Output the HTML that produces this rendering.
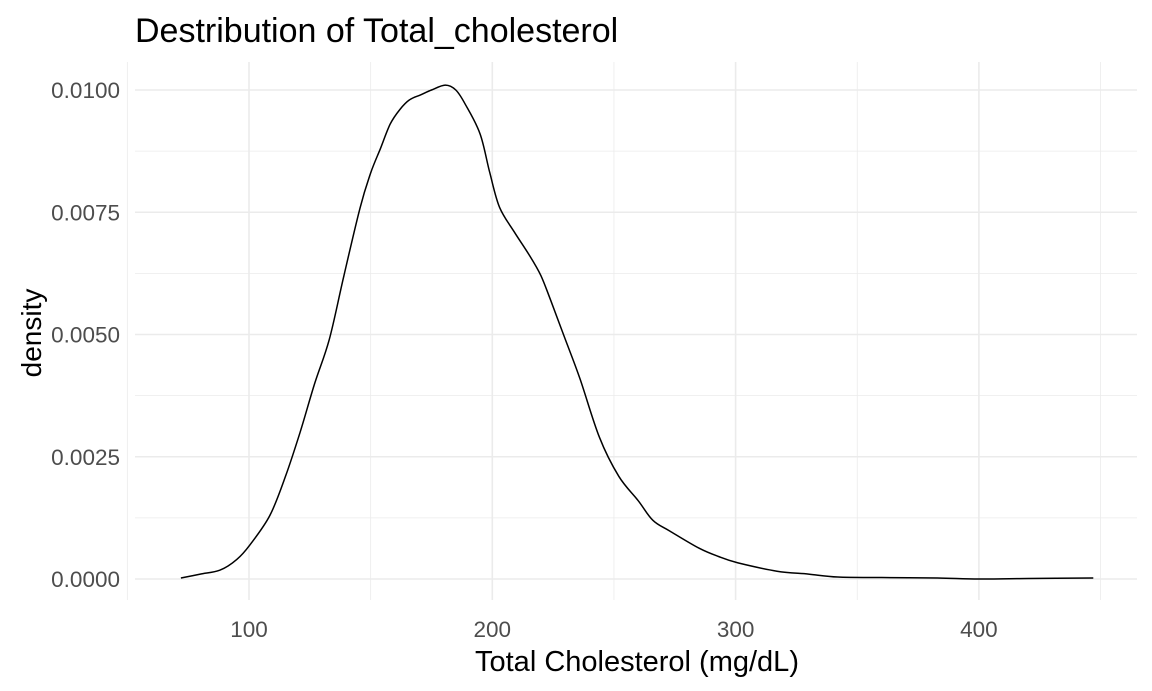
<!DOCTYPE html>
<html><head><meta charset="utf-8"><style>
body{margin:0;background:#fff;}
svg{display:block;font-family:"Liberation Sans",sans-serif;}
</style></head><body>
<svg id="chart" width="1152" height="691">
<text x="135" y="42" font-size="34" fill="#000">Destribution of Total_cholesterol</text>
<g id="grid"></g>
<g id="ticks"></g>
<path id="curve" fill="none" stroke="#000" stroke-width="1.5"></path>
<text x="637" y="671" font-size="29" text-anchor="middle" fill="#000">Total Cholesterol (mg/dL)</text>
<text transform="translate(41,333) rotate(-90)" font-size="28" text-anchor="middle" fill="#000">density</text>
</svg>
<script>
const xVals=[72,80,88,95,100.4,108.6,115,121,127,133,139,145.7,150,154,158,162,166,170.5,175,180.7,185,189,195,199,203,209,215.5,220,224,230,236,244,252,260,266,273,285,293,301,317,330,342,360,383,400,420,447];
const yVals=[0.00002,0.0001,0.00018,0.0004,0.0007,0.0013,0.0021,0.003,0.004,0.0049,0.0062,0.0076,0.0083,0.0088,0.0093,0.0096,0.0098,0.0099,0.01,0.0101,0.01,0.0097,0.0091,0.0083,0.0076,0.0071,0.0066,0.0062,0.0057,0.0049,0.0041,0.0029,0.0021,0.0016,0.0012,0.00098,0.00063,0.00046,0.00033,0.00016,0.0001,0.00004,0.00003,0.00002,0,0.00001,0.00002];
const xTicks=[100,200,300,400];
const xMinor=[50,150,250,350,450];
const yTicks=[0,0.0025,0.005,0.0075,0.01];
const yTickLabels=["0.0000","0.0025","0.0050","0.0075","0.0100"];
const yMinor=[0.00125,0.00375,0.00625,0.00875];
const L=135,R=1137,T=62,B=600;
const sx=v=>249+(v-100)*2.433;
const sy=v=>579-v*48900;
const NS="http://www.w3.org/2000/svg";
const grid=document.getElementById('grid'),ticks=document.getElementById('ticks');
function line(x1,y1,x2,y2,w,name){const l=document.createElementNS(NS,'line');
l.setAttribute('x1',x1);l.setAttribute('y1',y1);l.setAttribute('x2',x2);l.setAttribute('y2',y2);
l.setAttribute('stroke','#ebebeb');l.setAttribute('stroke-width',w);


grid.appendChild(l);}
xMinor.forEach(v=>line(sx(v),T,sx(v),B,0.8,'x-minor-gridline'));
yMinor.forEach(v=>line(L,sy(v),R,sy(v),0.8,'y-minor-gridline'));
xTicks.forEach(v=>line(sx(v),T,sx(v),B,1.6,'x-major-gridline'));
yTicks.forEach(v=>line(L,sy(v),R,sy(v),1.6,'y-major-gridline'));
function text(x,y,s,anchor,name){const t=document.createElementNS(NS,'text');
t.setAttribute('x',x);t.setAttribute('y',y);t.setAttribute('text-anchor',anchor);
t.setAttribute('font-size','22.5');t.setAttribute('fill','#4d4d4d');t.textContent=s;


ticks.appendChild(t);}
xTicks.forEach(v=>text(sx(v),637,String(v),'middle','x-tick-label'));
yTicks.forEach((v,i)=>text(120,sy(v)+8,yTickLabels[i],'end','y-tick-label'));
const P=xVals.map((x,i)=>[sx(x),sy(yVals[i])]);
let d='M'+P[0][0].toFixed(1)+','+P[0][1].toFixed(1);
for(let i=0;i<P.length-1;i++){
  const p0=P[Math.max(0,i-1)],p1=P[i],p2=P[i+1],p3=P[Math.min(P.length-1,i+2)];
  const c1=[p1[0]+(p2[0]-p0[0])/6,p1[1]+(p2[1]-p0[1])/6];
  const c2=[p2[0]-(p3[0]-p1[0])/6,p2[1]-(p3[1]-p1[1])/6];
  d+='C'+c1.map(v=>v.toFixed(1)).join(',')+' '+c2.map(v=>v.toFixed(1)).join(',')+' '+p2.map(v=>v.toFixed(1)).join(',');
}
document.getElementById('curve').setAttribute('d',d);
</script>
</body></html>
